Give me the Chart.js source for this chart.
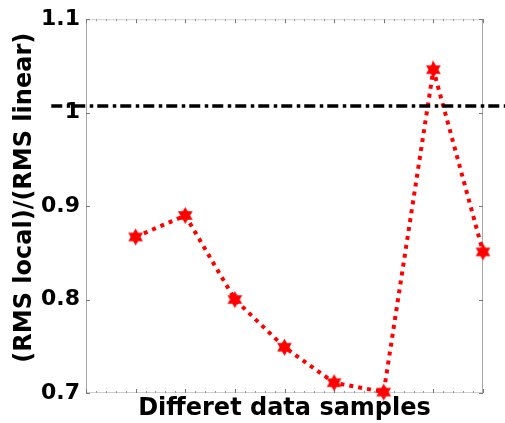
<!DOCTYPE html>
<html>
<head>
<meta charset="utf-8">
<script src="https://cdn.jsdelivr.net/npm/chart.js@4.4.1/dist/chart.umd.min.js"></script>
<style>
  html, body { margin: 0; padding: 0; background: #fff; }
  #wrap { width: 505px; height: 423px; }
</style>
</head>
<body>
<div id="wrap"><canvas id="ratio-chart"></canvas></div>
<script>
// data
const samples = [1, 2, 3, 4, 5, 6, 7, 8];
const ratios = [0.867, 0.890, 0.800, 0.749, 0.711, 0.701, 1.046, 0.851];
const refLevel = 1.007;
const refSpan = [-0.7, 8.5];
const yTicks = [0.7, 0.8, 0.9, 1.0, 1.1];

const font = 'DejaVu Sans';

// six pointed star marker
function hexagram(r, color) {
  const size = Math.ceil(r * 2 + 2);
  const c = document.createElement('canvas');
  c.width = size;
  c.height = size;
  const g = c.getContext('2d');
  g.fillStyle = color;
  g.beginPath();
  for (let i = 0; i < 12; i++) {
    const rad = i % 2 === 0 ? r : r / Math.sqrt(3);
    const a = -Math.PI / 2 + i * Math.PI / 6;
    const px = size / 2 + rad * Math.cos(a);
    const py = size / 2 + rad * Math.sin(a);
    if (i === 0) g.moveTo(px, py); else g.lineTo(px, py);
  }
  g.closePath();
  g.fill();
  return c;
}

// grey box + small inward ticks like the matlab axes
const boxPlugin = {
  id: 'box',
  beforeDatasetsDraw(chart) {
    const { ctx, chartArea: a, scales } = chart;
    ctx.save();
    ctx.lineWidth = 1;
    ctx.strokeStyle = '#d0d0d0';
    ctx.beginPath();
    ctx.moveTo(a.left, a.top + 0.5); ctx.lineTo(a.right, a.top + 0.5);
    ctx.moveTo(a.left, a.bottom - 0.5); ctx.lineTo(a.right, a.bottom - 0.5);
    ctx.stroke();
    ctx.strokeStyle = '#a8a8a8';
    ctx.beginPath();
    ctx.moveTo(a.left + 0.5, a.top); ctx.lineTo(a.left + 0.5, a.bottom);
    ctx.moveTo(a.right - 0.5, a.top); ctx.lineTo(a.right - 0.5, a.bottom);
    ctx.stroke();

    const xs = scales.x;
    for (let k = 0; k <= 40; k++) {
      const px = Math.round(xs.getPixelForValue(k / 5)) + 0.5;
      const major = k % 5 === 0;
      const len = major ? 4 : 2;
      ctx.strokeStyle = major ? '#777' : '#999';
      ctx.beginPath();
      ctx.moveTo(px, a.top); ctx.lineTo(px, a.top + len);
      ctx.moveTo(px, a.bottom); ctx.lineTo(px, a.bottom - len);
      ctx.stroke();
    }
    const ys = scales.y;
    ctx.strokeStyle = '#777';
    yTicks.forEach((v) => {
      const py = Math.round(ys.getPixelForValue(v)) + 0.5;
      ctx.beginPath();
      ctx.moveTo(a.left, py); ctx.lineTo(a.left + 4, py);
      ctx.moveTo(a.right, py); ctx.lineTo(a.right - 4, py);
      ctx.stroke();
    });
    ctx.restore();
  }
};

// dash-dot reference level, runs past both sides of the axes box
const refLinePlugin = {
  id: 'refLine',
  afterDatasetsDraw(chart) {
    const { ctx, scales } = chart;
    const py = scales.y.getPixelForValue(refLevel);
    ctx.save();
    ctx.strokeStyle = '#000';
    ctx.lineWidth = 3.5;
    ctx.lineCap = 'butt';
    ctx.setLineDash([11, 4.5, 3.5, 4]);
    ctx.beginPath();
    ctx.moveTo(scales.x.getPixelForValue(refSpan[0]), py);
    ctx.lineTo(scales.x.getPixelForValue(refSpan[1]), py);
    ctx.stroke();
    ctx.restore();
  }
};

const star = hexagram(8.5, '#ff0000');

new Chart(document.getElementById('ratio-chart'), {
  type: 'line',
  data: {
    datasets: [
      {
        label: 'ratio',
        data: samples.map((s, i) => ({ x: s, y: ratios[i] })),
        borderColor: '#ff0000',
        borderWidth: 4,
        borderDash: [4, 5],
        borderCapStyle: 'butt',
        pointStyle: star,
        pointRadius: 8,
        tension: 0,
        clip: false
      }
    ]
  },
  options: {
    responsive: true,
    maintainAspectRatio: false,
    animation: false,
    layout: { padding: { left: 0, right: 22, top: 17, bottom: 0 } },
    plugins: { legend: { display: false }, tooltip: { enabled: false } },
    scales: {
      x: {
        type: 'linear',
        min: 0,
        max: 8,
        grid: { display: false, drawTicks: false },
        border: { display: false },
        ticks: { display: false },
        title: {
          display: true,
          text: 'Differet data samples',
          color: '#000',
          font: { family: font, size: 24, weight: 'bold' },
          padding: { top: 0, bottom: 0 }
        },
        afterFit: (s) => { s.height = 30; }
      },
      y: {
        min: 0.7,
        max: 1.1,
        afterBuildTicks: (s) => { s.ticks = yTicks.map((v) => ({ value: v })); },
        grid: { display: false, drawTicks: false },
        border: { display: false },
        ticks: {
          color: '#000',
          padding: 6,
          font: { family: font, size: 22, weight: 'bold' },
          callback: (v) => String(Math.round(v * 10) / 10)
        },
        title: {
          display: true,
          text: '  (RMS local)/(RMS linear)',
          color: '#000',
          font: { family: font, size: 24, weight: 'bold' },
          padding: { top: 10, bottom: 0 }
        },
        afterFit: (s) => { s.width = 86; }
      }
    }
  },
  plugins: [boxPlugin, refLinePlugin]
});
</script>
</body>
</html>
